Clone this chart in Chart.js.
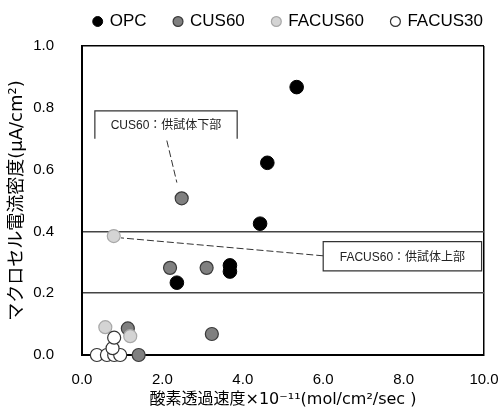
<!DOCTYPE html>
<html>
<head>
<meta charset="utf-8">
<script src="https://cdn.jsdelivr.net/npm/chart.js@4.4.1/dist/chart.umd.min.js"></script>
<style>
  html, body { margin: 0; padding: 0; background: #fff; }
  #wrap { width: 502px; height: 413px; }
</style>
</head>
<body>
<div id="wrap"><canvas id="chart" width="502" height="413"></canvas></div>
<script>
// values
const opcX = [5.34, 4.61, 4.43, 3.68, 3.68, 2.36];
const opcY = [0.867, 0.622, 0.425, 0.29, 0.27, 0.234];
const cus60X = [2.48, 2.19, 3.10, 3.23, 1.14, 1.41];
const cus60Y = [0.507, 0.282, 0.282, 0.068, 0.086, 0.0];
const facus60X = [0.79, 0.58, 1.20];
const facus60Y = [0.385, 0.09, 0.061];
const facus30X = [0.37, 0.62, 0.80, 0.95, 0.76, 0.80];
const facus30Y = [0.0, 0.0, 0.0, 0.0, 0.022, 0.056];

const seriesNames = ['OPC', 'CUS60', 'FACUS60', 'FACUS30'];
const xTitle = '酸素透過速度×10⁻¹¹(mol/cm²/sec )';
const yTitle = 'マクロセル電流密度(μA/cm²)';

// callout notes (anchored in data units)
const notes = [
  { text: 'CUS60：供試体下部', box: [0.32, 3.86, 0.79, 0.70], from: [2.11, 0.694], to: [2.36, 0.558], openBottom: true },
  { text: 'FACUS60：供試体上部', box: [6.0, 9.94, 0.367, 0.272], from: [6.0, 0.321], to: [0.97, 0.379], openBottom: false }
];

const FONT = "'Liberation Sans', Arial, 'Noto Sans CJK JP', sans-serif";
const TITLE_FONT = "'DejaVu Sans', 'Noto Sans CJK JP', sans-serif";

function pts(xs, ys) {
  return xs.map((x, i) => ({ x: x, y: ys[i] }));
}

const notesPlugin = {
  id: 'notes',
  afterDatasetsDraw(chart) {
    const { ctx, scales: { x, y } } = chart;
    ctx.save();
    notes.forEach(n => {
      // leader line
      ctx.strokeStyle = '#333';
      ctx.lineWidth = 1;
      ctx.setLineDash([7, 3]);
      ctx.beginPath();
      ctx.moveTo(x.getPixelForValue(n.from[0]), y.getPixelForValue(n.from[1]));
      ctx.lineTo(x.getPixelForValue(n.to[0]), y.getPixelForValue(n.to[1]));
      ctx.stroke();
      ctx.setLineDash([]);

      const l = x.getPixelForValue(n.box[0]);
      const r = x.getPixelForValue(n.box[1]);
      const t = y.getPixelForValue(n.box[2]);
      const b = y.getPixelForValue(n.box[3]);
      ctx.fillStyle = '#fff';
      ctx.fillRect(l, t, r - l, b - t);
      ctx.strokeStyle = '#333';
      ctx.lineWidth = 1.2;
      ctx.beginPath();
      if (n.openBottom) {
        ctx.moveTo(l, b); ctx.lineTo(l, t); ctx.lineTo(r, t); ctx.lineTo(r, b);
      } else {
        ctx.rect(l, t, r - l, b - t);
      }
      ctx.stroke();

      ctx.fillStyle = '#222';
      ctx.font = "12px 'Liberation Sans', 'Noto Sans CJK JP', sans-serif";
      ctx.textAlign = 'center';
      ctx.textBaseline = 'middle';
      ctx.fillText(n.text, (l + r) / 2, (t + b) / 2 + 1);
    });
    ctx.restore();
  }
};

const near = (a, b) => Math.abs(a - b) < 1e-6;

new Chart(document.getElementById('chart').getContext('2d'), {
  type: 'scatter',
  data: {
    datasets: [
      {
        label: seriesNames[0], data: pts(opcX, opcY), order: 4,
        backgroundColor: '#000', borderColor: '#000', borderWidth: 1,
        pointRadius: 6.8, pointHoverRadius: 6.8, clip: false
      },
      {
        label: seriesNames[1], data: pts(cus60X, cus60Y), order: 3,
        backgroundColor: '#808080', borderColor: '#3a3a3a', borderWidth: 1.2,
        pointRadius: 6.5, pointHoverRadius: 6.5, clip: false
      },
      {
        label: seriesNames[2], data: pts(facus60X, facus60Y), order: 2,
        backgroundColor: '#d4d4d4', borderColor: '#a8a8a8', borderWidth: 1.2,
        pointRadius: 6.5, pointHoverRadius: 6.5, clip: false
      },
      {
        label: seriesNames[3], data: pts(facus30X, facus30Y), order: 1,
        backgroundColor: '#fff', borderColor: '#333', borderWidth: 1.2,
        pointRadius: 6.5, pointHoverRadius: 6.5, clip: false
      }
    ]
  },
  options: {
    responsive: false,
    animation: false,
    layout: { padding: { top: -15, right: -9, left: 0, bottom: 0 } },
    plugins: {
      tooltip: { enabled: false },
      legend: {
        position: 'top',
        align: 'end',
        labels: {
          usePointStyle: true,
          pointStyle: 'circle',
          boxWidth: 7,
          boxHeight: 7,
          padding: 28,
          color: '#000',
          font: { family: FONT, size: 17 },
          sort: (a, b) => a.datasetIndex - b.datasetIndex
        }
      }
    },
    scales: {
      x: {
        type: 'linear',
        min: 0, max: 10,
        afterFit: s => { s.height = 58; s.paddingRight = 18; },
        ticks: {
          stepSize: 2,
          padding: 16,
          color: '#000',
          font: { family: FONT, size: 15 },
          callback: v => v.toFixed(1)
        },
        grid: {
          drawTicks: false,
          color: c => near(c.tick.value, 10) ? '#000' : 'rgba(0,0,0,0)',
          lineWidth: 1.5
        },
        border: { color: '#000', width: 2 },
        title: {
          display: true,
          text: xTitle,
          color: '#000',
          font: { family: TITLE_FONT, size: 16 },
          padding: { top: 0, bottom: 4 }
        }
      },
      // spacer between legend and plot top
      xTop: {
        type: 'linear',
        position: 'top',
        display: true,
        afterFit: s => { s.height = 6; s.paddingRight = 18; s.paddingLeft = 0; },
        ticks: { display: false },
        grid: { display: false, drawTicks: false },
        border: { display: false }
      },
      y: {
        type: 'linear',
        min: 0, max: 1,
        afterFit: s => { s.width = 82; },
        ticks: {
          stepSize: 0.2,
          padding: 28,
          color: '#000',
          font: { family: FONT, size: 15 },
          callback: v => v.toFixed(1)
        },
        grid: {
          drawTicks: false,
          color: c => {
            const v = c.tick.value;
            if (near(v, 1)) return '#000';
            if (near(v, 0.2) || near(v, 0.4)) return '#444';
            return 'rgba(0,0,0,0)';
          },
          lineWidth: 1.5
        },
        border: { color: '#000', width: 2 },
        title: {
          display: true,
          text: yTitle,
          color: '#000',
          font: { family: TITLE_FONT, size: 18 },
          padding: { top: 7, bottom: 0 }
        }
      }
    }
  },
  plugins: [notesPlugin]
});
</script>
</body>
</html>
